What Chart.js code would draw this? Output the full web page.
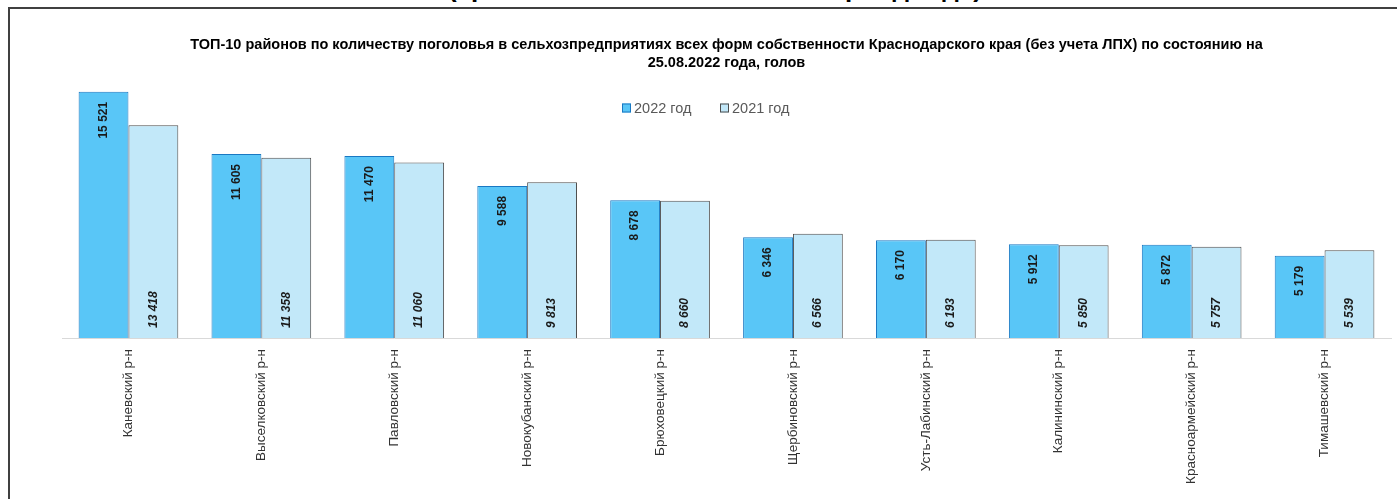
<!DOCTYPE html>
<html lang="ru">
<head>
<meta charset="utf-8">
<script src="https://cdn.jsdelivr.net/npm/chart.js@4.4.0/dist/chart.umd.min.js"></script>
<style>
  html, body { margin: 0; padding: 0; background: #fff; overflow: hidden; }
  body { width: 1397px; height: 499px; position: relative; font-family: "Liberation Sans", Arial, sans-serif; }
  #bigTitle {
    position: absolute; left: 0; top: 0; width: 1397px; height: 7px; overflow: hidden;
  }
  #bigTitle span {
    position: absolute; left: 448px; top: -25px; font: bold 26px "Liberation Sans", Arial, sans-serif;
    color: #000; white-space: nowrap; line-height: 26px;
  }
  #frame {
    position: absolute; left: 8px; top: 7px; right: 0; bottom: 0;
    border-top: 2px solid #404040; border-left: 2px solid #404040;
  }
  #wrap { position: absolute; left: 10px; top: 9px; width: 1387px; height: 490px; }
</style>
</head>
<body>
<div id="bigTitle"><span>(сравнение за аналогичный период года)</span></div>
<div id="frame"></div>
<div id="wrap"><canvas id="barChart"></canvas></div>
<script>
// Категории и значения
const rayony = ["Каневский р-н", "Выселковский р-н", "Павловский р-н", "Новокубанский р-н", "Брюховецкий р-н",
  "Щербиновский р-н", "Усть-Лабинский р-н", "Калининский р-н", "Красноармейский р-н", "Тимашевский р-н"];
const god2022 = [15521, 11605, 11470, 9588, 8678, 6346, 6170, 5912, 5872, 5179];
const god2021 = [13418, 11358, 11060, 9813, 8660, 6566, 6193, 5850, 5757, 5539];
const titulo = ["ТОП-10 районов по количеству поголовья в сельхозпредприятиях всех форм собственности Краснодарского края (без учета ЛПХ) по состоянию на",
  "25.08.2022 года, голов"];

function formatar(v) {
  return String(v).replace(/\B(?=(\d{3})+(?!\d))/g, " ");
}

// Подписи значений внутри столбцов
const rotuloPlugin = {
  id: "rotulos",
  afterDatasetsDraw(chart) {
    const ctx = chart.ctx;
    chart.data.datasets.forEach((ds, i) => {
      const meta = chart.getDatasetMeta(i);
      meta.data.forEach((bar, j) => {
        ctx.save();
        ctx.translate(bar.x, i === 0 ? bar.y + 10 : bar.base - 10);
        ctx.rotate(-Math.PI / 2);
        ctx.fillStyle = "#1a1a1a";
        ctx.font = (i === 1 ? "italic " : "") + "bold 12px 'Liberation Sans', Arial, sans-serif";
        ctx.textBaseline = "middle";
        ctx.textAlign = i === 0 ? "right" : "left";
        ctx.fillText(formatar(ds.data[j]), 0, 0);
        ctx.restore();
      });
    });
  }
};

// Легенда поверх области графика
const legendaPlugin = {
  id: "legenda",
  afterDraw(chart) {
    const ctx = chart.ctx;
    const pos = [612, 710];
    const y = 99;
    ctx.save();
    ctx.font = "14.5px 'Liberation Sans', Arial, sans-serif";
    ctx.textBaseline = "middle";
    chart.data.datasets.forEach((ds, i) => {
      const x = pos[i];
      ctx.fillStyle = ds.backgroundColor;
      ctx.fillRect(x, y - 4.5, 9, 9);
      ctx.strokeStyle = ds.borderColor;
      ctx.lineWidth = 1;
      ctx.strokeRect(x + 0.5, y - 4, 8, 8);
      ctx.fillStyle = "#595959";
      ctx.fillText(ds.label, x + 12, y + 1);
    });
    ctx.restore();
  }
};

const ctxBar = document.getElementById("barChart").getContext("2d");
new Chart(ctxBar, {
  type: "bar",
  data: {
    labels: rayony,
    datasets: [{
      label: "2022 год",
      data: god2022,
      backgroundColor: "#59c6f7",
      borderColor: "#1a78c2",
      borderWidth: 1
    }, {
      label: "2021 год",
      data: god2021,
      backgroundColor: "#c2e8f9",
      borderColor: "#4d4d4d",
      borderWidth: 1
    }]
  },
  options: {
    responsive: true,
    maintainAspectRatio: false,
    animation: false,
    categoryPercentage: 0.75,
    barPercentage: 1.0,
    layout: { padding: { left: 52, right: 6, top: 0, bottom: 0 } },
    plugins: {
      legend: { display: false },
      tooltip: { enabled: false },
      title: {
        display: true,
        text: titulo,
        color: "#000",
        font: { family: "'Liberation Sans', Arial, sans-serif", size: 14.5, weight: "bold", lineHeight: 1.25 },
        padding: { top: 27, bottom: 12 }
      }
    },
    scales: {
      x: {
        grid: { display: false },
        border: { display: true, color: "#d9d9d9", width: 1 },
        ticks: {
          color: "#333",
          font: { family: "'Liberation Sans', Arial, sans-serif", size: 13.5 },
          minRotation: 90, maxRotation: 90, padding: 3,
          autoSkip: false
        },
        afterFit(scale) { scale.height = 161; }
      },
      y: {
        display: false,
        min: 0,
        max: 16000
      }
    }
  },
  plugins: [rotuloPlugin, legendaPlugin]
});
</script>
</body>
</html>
